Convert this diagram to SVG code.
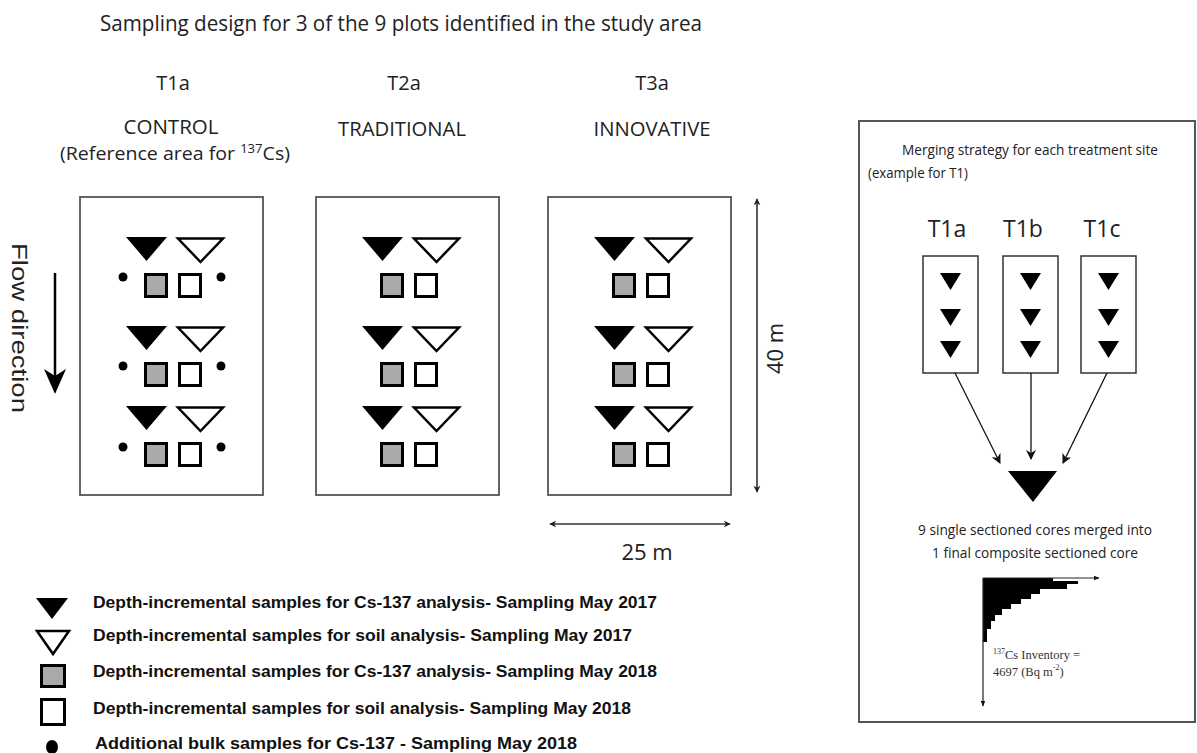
<svg xmlns="http://www.w3.org/2000/svg" width="1197" height="753" viewBox="0 0 1197 753">
<defs>
<style>
.my{font-family:"Open Sans","Liberation Sans",sans-serif;fill:#222}
.lg{font-family:"Liberation Sans",Arial,sans-serif;font-weight:bold;font-size:16px;fill:#111}
.plot{fill:#fff;stroke:#555;stroke-width:1.8}
.ft{fill:#000}
.ot{fill:#fff;stroke:#000;stroke-width:2.5}
.gs{fill:#aaa;stroke:#000;stroke-width:3}
.ws{fill:#fff;stroke:#000;stroke-width:3}
.ln{stroke:#333;stroke-width:1.6;fill:none}
.tm{font-family:"Liberation Serif","Times New Roman",serif;font-size:12.5px;fill:#333}
</style>
<marker id="dim" viewBox="0 0 10 10" refX="9" refY="5" markerWidth="7" markerHeight="7" orient="auto-start-reverse" markerUnits="userSpaceOnUse"><path d="M0,0 L10,5 L0,10 L3,5 Z" fill="#222"/></marker>
<marker id="ar" viewBox="0 0 10 10" refX="9" refY="5" markerWidth="10" markerHeight="10" orient="auto" markerUnits="userSpaceOnUse"><path d="M0,0 L10,5 L0,10 L3,5 Z" fill="#111"/></marker>
<marker id="sm" viewBox="0 0 10 10" refX="9" refY="5" markerWidth="6" markerHeight="6" orient="auto" markerUnits="userSpaceOnUse"><path d="M0,1 L10,5 L0,9 Z" fill="#111"/></marker>
<g id="syms">
<polygon class="ft" points="46,0 87,0 66.5,24"/>
<polygon class="ot" points="98,1.5 143,1.5 120.5,25"/>
<rect class="gs" x="65.5" y="37.5" width="21" height="22"/>
<rect class="ws" x="99.5" y="37.5" width="21" height="22"/>
</g>
<polygon id="mt" points="0,0 21,0 10.5,17" fill="#000"/>
</defs>

<text class="my" x="100" y="31" font-size="21" textLength="602" lengthAdjust="spacingAndGlyphs">Sampling design for 3 of the 9 plots identified in the study area</text>

<g id="flow">
<text font-size="22" fill="#222" transform="translate(12,243) rotate(90)" textLength="170" lengthAdjust="spacingAndGlyphs" font-family="'Liberation Sans',Arial,sans-serif">Flow direction</text>
<line x1="55" y1="273" x2="55" y2="378" stroke="#000" stroke-width="2.5"/>
<path d="M44,369 L55,394 L66,369 L55,376 Z" fill="#000"/>
</g>

<g id="plot-T1a">
<text class="my" x="173" y="90" font-size="20" text-anchor="middle">T1a</text>
<text class="my" x="171" y="134" font-size="20" text-anchor="middle" textLength="95" lengthAdjust="spacingAndGlyphs">CONTROL</text>
<text class="my" x="60" y="160" font-size="18" textLength="230" lengthAdjust="spacingAndGlyphs">(Reference area for <tspan font-size="12" dy="-7">137</tspan><tspan dy="7">Cs)</tspan></text>
<rect class="plot" x="80" y="197" width="183" height="298"/>
<use href="#syms" x="80" y="237"/>
<use href="#syms" x="80" y="326"/>
<use href="#syms" x="80" y="406"/>
<circle cx="123" cy="277" r="4.5"/><circle cx="221" cy="277" r="4.5"/>
<circle cx="123" cy="366" r="4.5"/><circle cx="221" cy="366" r="4.5"/>
<circle cx="123" cy="447" r="4.5"/><circle cx="221" cy="447" r="4.5"/>
</g>

<g id="plot-T2a">
<text class="my" x="404" y="90" font-size="20" text-anchor="middle">T2a</text>
<text class="my" x="402" y="136" font-size="20" text-anchor="middle" textLength="128" lengthAdjust="spacingAndGlyphs">TRADITIONAL</text>
<rect class="plot" x="316" y="197" width="183" height="298"/>
<use href="#syms" x="316" y="237"/>
<use href="#syms" x="316" y="326"/>
<use href="#syms" x="316" y="406"/>
</g>

<g id="plot-T3a">
<text class="my" x="652" y="90" font-size="20" text-anchor="middle">T3a</text>
<text class="my" x="652" y="136" font-size="20" text-anchor="middle" textLength="117" lengthAdjust="spacingAndGlyphs">INNOVATIVE</text>
<rect class="plot" x="548" y="197" width="183" height="298"/>
<use href="#syms" x="548" y="237"/>
<use href="#syms" x="548" y="326"/>
<use href="#syms" x="548" y="406"/>
</g>

<g id="dimensions">
<line x1="757" y1="199" x2="757" y2="492" class="ln" marker-start="url(#dim)" marker-end="url(#dim)"/>
<text class="my" font-size="22" transform="translate(783,374) rotate(-90)">40 m</text>
<line x1="550" y1="524" x2="730" y2="524" class="ln" marker-start="url(#dim)" marker-end="url(#dim)"/>
<text class="my" x="647" y="560" font-size="22" text-anchor="middle">25 m</text>
</g>

<g id="legend">
<polygon points="36,598 68,598 52,619" fill="#000"/>
<text class="lg" x="93" y="608" textLength="564" lengthAdjust="spacingAndGlyphs">Depth-incremental samples for Cs-137 analysis- Sampling May 2017</text>
<polygon class="ot" points="37,631 69,631 53,654"/>
<text class="lg" x="93" y="641" textLength="539" lengthAdjust="spacingAndGlyphs">Depth-incremental samples for soil analysis- Sampling May 2017</text>
<rect class="gs" x="41.5" y="665.5" width="23" height="21"/>
<text class="lg" x="93" y="677" textLength="564" lengthAdjust="spacingAndGlyphs">Depth-incremental samples for Cs-137 analysis- Sampling May 2018</text>
<rect class="ws" x="41.5" y="699.5" width="23" height="25"/>
<text class="lg" x="93" y="714" textLength="538" lengthAdjust="spacingAndGlyphs">Depth-incremental samples for soil analysis- Sampling May 2018</text>
<ellipse cx="52" cy="747" rx="6" ry="7" fill="#000"/>
<text class="lg" x="95" y="749" textLength="482" lengthAdjust="spacingAndGlyphs">Additional bulk samples for Cs-137 - Sampling May 2018</text>
</g>

<g id="merging-panel">
<rect x="859" y="121" width="336" height="601" fill="#fff" stroke="#555" stroke-width="2"/>
<text class="my" x="1030" y="155" font-size="15" text-anchor="middle" textLength="256" lengthAdjust="spacingAndGlyphs">Merging strategy for each treatment site</text>
<text class="my" x="868" y="178" font-size="14" textLength="100" lengthAdjust="spacingAndGlyphs">(example for T1)</text>
</g>

<g id="core-T1a">
<text class="my" x="947" y="237" font-size="23" text-anchor="middle">T1a</text>
<rect x="923" y="256" width="55" height="117" fill="#fff" stroke="#333" stroke-width="1.5"/>
<use href="#mt" x="940" y="273"/><use href="#mt" x="940" y="309"/><use href="#mt" x="940" y="341"/>
</g>
<g id="core-T1b">
<text class="my" x="1023" y="237" font-size="23" text-anchor="middle">T1b</text>
<rect x="1003" y="256" width="55" height="117" fill="#fff" stroke="#333" stroke-width="1.5"/>
<use href="#mt" x="1020" y="273"/><use href="#mt" x="1020" y="309"/><use href="#mt" x="1020" y="341"/>
</g>
<g id="core-T1c">
<text class="my" x="1102" y="237" font-size="23" text-anchor="middle">T1c</text>
<rect x="1081" y="256" width="55" height="117" fill="#fff" stroke="#333" stroke-width="1.5"/>
<use href="#mt" x="1098" y="273"/><use href="#mt" x="1098" y="309"/><use href="#mt" x="1098" y="341"/>
</g>

<g id="connectors">
<line x1="955" y1="373" x2="1000" y2="463" stroke="#111" stroke-width="1.3" marker-end="url(#ar)"/>
<line x1="1031" y1="373" x2="1031" y2="459" stroke="#111" stroke-width="1.3" marker-end="url(#ar)"/>
<line x1="1107" y1="373" x2="1063" y2="463" stroke="#111" stroke-width="1.3" marker-end="url(#ar)"/>
</g>

<g id="composite">
<polygon points="1008,471 1057,471 1033,502" fill="#000"/>
<text class="my" x="1035" y="535" font-size="15" text-anchor="middle" textLength="234" lengthAdjust="spacingAndGlyphs">9 single sectioned cores merged into</text>
<text class="my" x="1035" y="558" font-size="15" text-anchor="middle" textLength="206" lengthAdjust="spacingAndGlyphs">1 final composite sectioned core</text>
</g>

<g id="profile">
<path d="M983,578 H1053 V581 H1078 V584 H1067 V589 H1040 V594 H1031 V599 H1021 V604 H1011 V609 H1002 V615 H995 V621 H991 V629 H987 V642 H983 Z" fill="#000"/>
<line x1="983" y1="578" x2="1099" y2="578" stroke="#222" stroke-width="1" marker-end="url(#sm)"/>
<line x1="983" y1="578" x2="983" y2="706" stroke="#222" stroke-width="1.2" marker-end="url(#sm)"/>
<text class="tm" x="993" y="659"><tspan font-size="8" dy="-5">137</tspan><tspan dy="5">Cs Inventory =</tspan></text>
<text class="tm" x="993" y="676">4697 (Bq m<tspan font-size="8" dy="-6">-2</tspan><tspan dy="6">)</tspan></text>
</g>
</svg>
